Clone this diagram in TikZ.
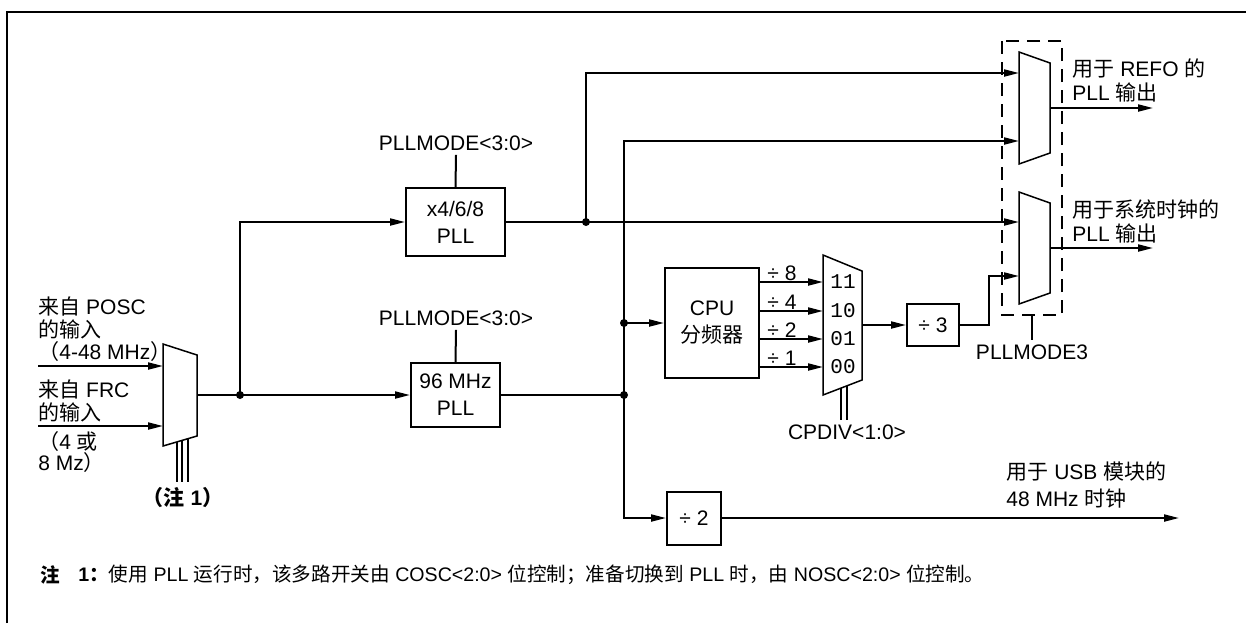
\documentclass[tikz,border=0pt]{standalone}
\usepackage{fontspec}
\setmainfont{Liberation Sans}
\setmonofont{Liberation Mono}
\newfontfamily\cjk{Noto Sans CJK SC}
\newcommand\zh[1]{{\cjk #1}}
\usetikzlibrary{arrows.meta}
\begin{document}
\begin{tikzpicture}[x=0.5pt,y=-0.5pt,
  wire/.style={line width=1pt},
  arr/.style={wire,-{Triangle[length=7.5pt,width=3.5pt]}},
  blk/.style={draw,line width=1pt,inner sep=0pt,align=center,font=\fontsize{10.5}{13.5}\selectfont},
  muxs/.style={draw,line width=0.75pt},
  lbl/.style={inner sep=0pt,font=\fontsize{10.5}{11}\selectfont},
  ctl/.style={inner sep=2pt,font=\fontsize{10.5}{11}\selectfont},
  mono/.style={inner sep=0pt,font=\fontsize{10.5}{11}\ttfamily},
  dot/.style={circle,fill,inner sep=0pt,minimum size=4pt},
  notef/.style={inner sep=0pt,font=\fontsize{9.8}{11}\selectfont},
]
\useasboundingbox (0,0) rectangle (1246,623);
% frame
\draw[line width=1pt] (7,623) -- (7,12) -- (1246,12);

% blocks
\node[blk,minimum width=49.5pt,minimum height=34pt] (pll1) at (455.5,222) {x4/6/8\\PLL};
\node[blk,minimum width=44.5pt,minimum height=32pt] (pll2) at (455.5,395) {96 MHz\\PLL};
\node[blk,minimum width=47pt,minimum height=55pt] (cpu) at (712,323) {CPU\\\zh{分频器}};
\node[blk,minimum width=26pt,minimum height=21pt] (div3) at (933,325) {÷ 3};
\node[blk,minimum width=27pt,minimum height=26.5pt] (div2) at (694,518) {÷ 2};

% muxes
\draw[muxs] (163,344) -- (197,355) -- (197,436) -- (163,446) -- cycle;
\draw[muxs] (823,255) -- (862,271) -- (862,380) -- (823,395) -- cycle;
\draw[muxs] (1019,52) -- (1050,63) -- (1050,153) -- (1019,164) -- cycle;
\draw[muxs] (1019,192) -- (1050,203) -- (1050,293) -- (1019,304) -- cycle;
\draw[line width=1pt,dash pattern=on 6.5pt off 4pt] (1002,41) rectangle (1062,315);

% port coordinates
\coordinate (posc) at (38,366);
\coordinate (frc) at (38,426);
\coordinate (m0i1) at (163,366);
\coordinate (m0i2) at (163,426);
\coordinate (m0o) at (197,395);
\coordinate (j1) at (240,395);
\coordinate (j2) at (586,222);
\coordinate (j3) at (624,395);
\coordinate (j4) at (624,323);
\coordinate (m2i1) at (1019,73);
\coordinate (m2i2) at (1019,141);
\coordinate (m3i1) at (1019,222);
\coordinate (m3i2) at (1019,276);
\coordinate (m2o) at (1050,108);
\coordinate (m3o) at (1050,248);
\coordinate (out1) at (1153,108);
\coordinate (out2) at (1153,248);
\coordinate (out3) at (1179,518);
\coordinate (m1i1) at (823,282);
\coordinate (m1i2) at (823,311);
\coordinate (m1i3) at (823,339);
\coordinate (m1i4) at (823,367);
\coordinate (m1o) at (862,325);
\coordinate (k3) at (989,276);
\coordinate (dbx) at (1032,315);

% connectors
\draw[arr] (posc) -- (m0i1);
\draw[arr] (frc) -- (m0i2);
\draw[wire] (m0o) -- (j1);
\draw[arr] (j1) -- (pll2.west);
\draw[arr] (j1) |- (pll1.west);
\draw[wire] (pll1.east) -- (j2);
\draw[arr] (j2) -- (m3i1);
\draw[arr] (j2) |- (m2i1);
\draw[wire] (pll2.east) -- (j3);
\draw[arr] (j3) |- (m2i2);
\draw[arr] (j3) |- (div2.west);
\draw[arr] (j4) -- (cpu.west);
\draw[arr] (cpu.east |- m1i1) -- (m1i1);
\draw[arr] (cpu.east |- m1i2) -- (m1i2);
\draw[arr] (cpu.east |- m1i3) -- (m1i3);
\draw[arr] (cpu.east |- m1i4) -- (m1i4);
\draw[arr] (m1o) -- (div3.west);
\draw[arr] (div3.east) -| (k3) -- (m3i2);
\draw[arr] (m2o) -- (out1);
\draw[arr] (m3o) -- (out2);
\draw[arr] (div2.east) -- (out3);

\node[dot] at (j1) {};
\node[dot] at (j2) {};
\node[dot] at (j3) {};
\node[dot] at (j4) {};

% control labels and lines
\node[ctl] (pm1) at (456,143) {PLLMODE<3:0>};
\node[ctl] (pm2) at (456,318) {PLLMODE<3:0>};
\draw[wire] (pm1.south) -- (pll1.north);
\draw[wire] (pm2.south) -- (pll2.north);
\node[ctl] (pm3) at (1032,352) {PLLMODE3};
\draw[wire] (dbx) -- (pm3.north);
\node[ctl] (cpd) at (847,432) {CPDIV<1:0>};
\draw[line width=0.75pt] (841,388) -- (841,420);
\draw[line width=0.75pt] (847,386) -- (847,420);
\node[lbl,font=\fontsize{10.5}{11}\bfseries] (n1) at (183,498) {\zh{（注} 1\zh{）}};
\draw[line width=0.75pt] (177,442) -- (177,482);
\draw[line width=0.75pt] (182,440.5) -- (182,482);
\draw[line width=0.75pt] (188,438.5) -- (188,482);

% mux labels
\node[mono] at (843,282) {11};
\node[mono] at (843,311) {10};
\node[mono] at (843,339) {01};
\node[mono] at (843,367) {00};
\node[lbl] at (782,273) {÷ 8};
\node[lbl] at (782,302) {÷ 4};
\node[lbl] at (782,330) {÷ 2};
\node[lbl] at (782,358) {÷ 1};

% input labels
\node[lbl,anchor=base west] at (38,314) {\zh{来自} POSC};
\node[lbl,anchor=base west] at (38,337) {\zh{的输入}};
\node[lbl,anchor=base west] at (38,359) {\zh{（}4-48 MHz\zh{）}};
\node[lbl,anchor=base west] at (38,397) {\zh{来自} FRC};
\node[lbl,anchor=base west] at (38,420) {\zh{的输入}};
\node[lbl,anchor=base west] at (38,449) {\zh{（}4 \zh{或}};
\node[lbl,anchor=base west] at (38,470) {8 Mz\zh{）}};

% output labels
\node[lbl,anchor=base west] at (1072,76) {\zh{用于} REFO \zh{的}};
\node[lbl,anchor=base west] at (1072,100) {PLL \zh{输出}};
\node[lbl,anchor=base west] at (1072,217) {\zh{用于系统时钟的}};
\node[lbl,anchor=base west] at (1072,241) {PLL \zh{输出}};
\node[lbl,anchor=base west] at (1006,479) {\zh{用于} USB \zh{模块的}};
\node[lbl,anchor=base west] at (1006,506) {48 MHz \zh{时钟}};

% note
\node[notef,anchor=west] at (40,575) {\zh{\bfseries 注}};
\node[notef,anchor=west] at (78,575) {\textbf{1}\zh{\bfseries ：}\zh{使用} PLL \zh{运行时，该多路开关由} COSC<2:0> \zh{位控制；准备切换到} PLL \zh{时，由} NOSC<2:0> \zh{位控制。}};
\end{tikzpicture}
\end{document}
